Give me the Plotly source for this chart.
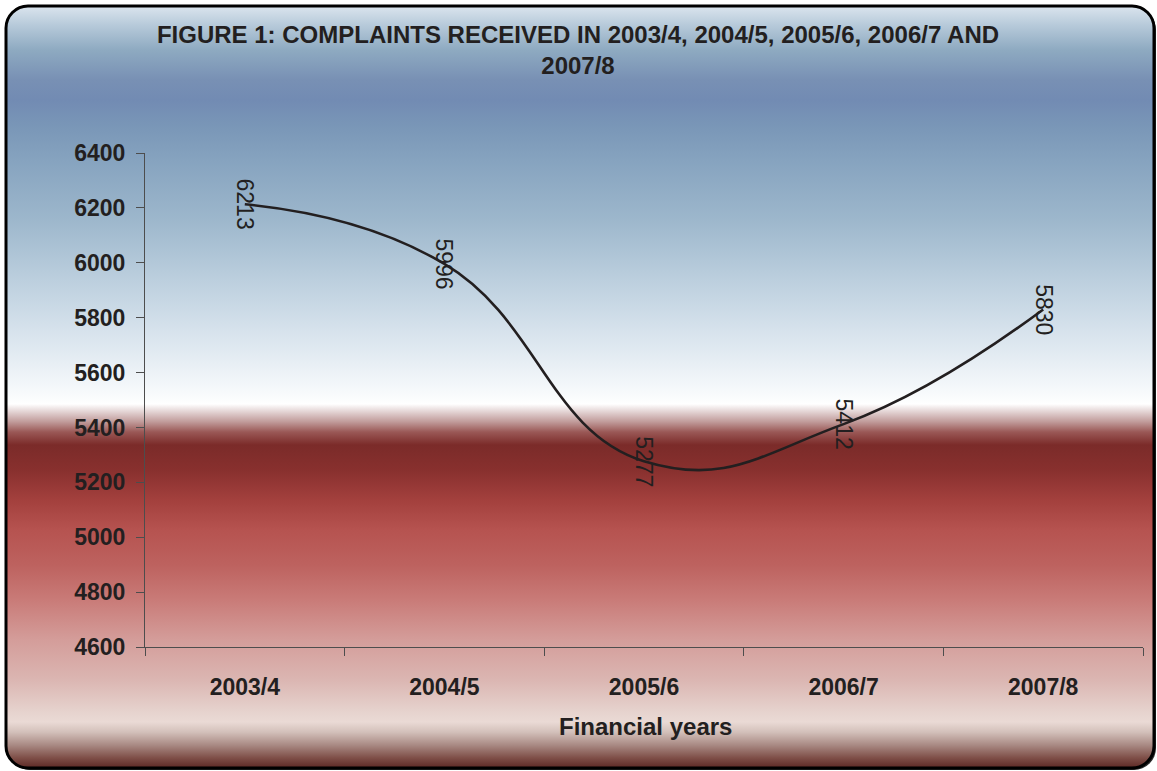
import base64
import plotly.graph_objects as go

# Complaints received per financial year
years = ["2003/4", "2004/5", "2005/6", "2006/7", "2007/8"]
complaints = [6213, 5996, 5277, 5412, 5830]
y_ticks = [4600, 4800, 5000, 5200, 5400, 5600, 5800, 6000, 6200, 6400]

TITLE = "FIGURE 1: COMPLAINTS RECEIVED IN 2003/4, 2004/5, 2005/6, 2006/7 AND<br>2007/8"
INK = "#231f20"
FONT = "Liberation Sans, Arial, sans-serif"

W, H = 1157, 771
ML, MR, MT, MB = 145, 14, 153, 124
PW, PH = W - ML - MR, H - MT - MB

# Framed panel background: rounded card with a vertical blue/white/red gradient
stops = [
    (6, "#dbe5ee"), (25, "#b7cada"), (50, "#8eaac1"), (80, "#7890b4"),
    (100, "#728bb3"), (125, "#7996b7"), (160, "#86a3bf"), (220, "#9db7cc"),
    (280, "#bccfde"), (330, "#d6e2ec"), (370, "#ebf1f6"), (398, "#fafcfd"),
    (404, "#ffffff"), (412, "#e2d2d2"), (422, "#c09a99"), (432, "#9a5856"),
    (445, "#7b2b29"), (470, "#88302e"), (500, "#a3403d"), (530, "#b65350"),
    (565, "#bd625f"), (600, "#c97b78"), (640, "#d49d9a"), (680, "#dbb6b2"),
    (712, "#e6d3ce"), (722, "#eadad5"), (732, "#d3c0ba"), (745, "#a98a84"),
    (758, "#7e4e47"), (768, "#5c2824"),
]
y0, y1 = 6, 768
stop_tags = "".join(
    f'<stop offset="{(y - y0) / (y1 - y0):.4f}" stop-color="{c}"/>' for y, c in stops
)
svg = (
    f'<svg xmlns="http://www.w3.org/2000/svg" width="{W}" height="{H}" viewBox="0 0 {W} {H}">'
    f'<defs><linearGradient id="g" gradientUnits="userSpaceOnUse" x1="0" y1="{y0}" x2="0" y2="{y1}">'
    f"{stop_tags}</linearGradient></defs>"
    f'<rect x="8" y="8" width="1148" height="762" rx="22" ry="22" fill="#2a2a2a"/>'
    f'<rect x="6" y="6" width="1148" height="762" rx="22" ry="22" fill="url(#g)" '
    f'stroke="#000000" stroke-width="3"/>'
    f"</svg>"
)
bg_src = "data:image/svg+xml;base64," + base64.b64encode(svg.encode()).decode()

fig = go.Figure()

fig.add_trace(
    go.Scatter(
        x=years,
        y=complaints,
        mode="lines",
        line=dict(color=INK, width=2.6, shape="spline", smoothing=1.3),
        hoverinfo="x+y",
        showlegend=False,
    )
)

# Value labels, rotated and centred on each point
for yr, val in zip(years, complaints):
    fig.add_annotation(
        x=yr, y=val, xref="x", yref="y",
        text=str(val), showarrow=False, textangle=90,
        xanchor="center", yanchor="middle",
        font=dict(family=FONT, size=23, color=INK),
    )

# Axis title placed below the category labels
fig.add_annotation(
    x=0.502, y=-(726 - (H - MB)) / PH,
    xref="paper", yref="paper",
    text="Financial years", showarrow=False,
    xanchor="center", yanchor="middle",
    font=dict(family=FONT, size=24, color=INK, weight="bold"),
)

fig.update_layout(
    width=W, height=H,
    margin=dict(l=ML, r=MR, t=MT, b=MB, pad=0),
    paper_bgcolor="#ffffff",
    plot_bgcolor="rgba(0,0,0,0)",
    title=dict(
        text=TITLE,
        x=578 / W, xanchor="center", xref="container",
        y=1 - 43 / H, yanchor="top", yref="container",
        font=dict(family=FONT, size=24, color=INK, weight="bold"),
    ),
    images=[dict(
        source=bg_src, xref="paper", yref="paper",
        x=-ML / PW, y=1 + MT / PH, sizex=W / PW, sizey=H / PH,
        xanchor="left", yanchor="top", sizing="stretch", layer="below",
    )],
    xaxis=dict(
        type="category", range=[-0.5, 4.5],
        tickson="boundaries", ticks="outside", ticklen=8, tickcolor="#4d4d4d",
        showline=True, linecolor="#4d4d4d", linewidth=1,
        showgrid=False, zeroline=False, ticklabelstandoff=19,
        tickfont=dict(family=FONT, size=23, color=INK, weight="bold"),
    ),
    yaxis=dict(
        range=[4600, 6400], tickvals=y_ticks,
        ticks="outside", ticklen=8, tickcolor="#4d4d4d",
        showline=True, linecolor="#4d4d4d", linewidth=1,
        showgrid=False, zeroline=False, ticklabelstandoff=6,
        tickfont=dict(family=FONT, size=23, color=INK, weight="bold"),
    ),
)

fig.write_html("out.html")
